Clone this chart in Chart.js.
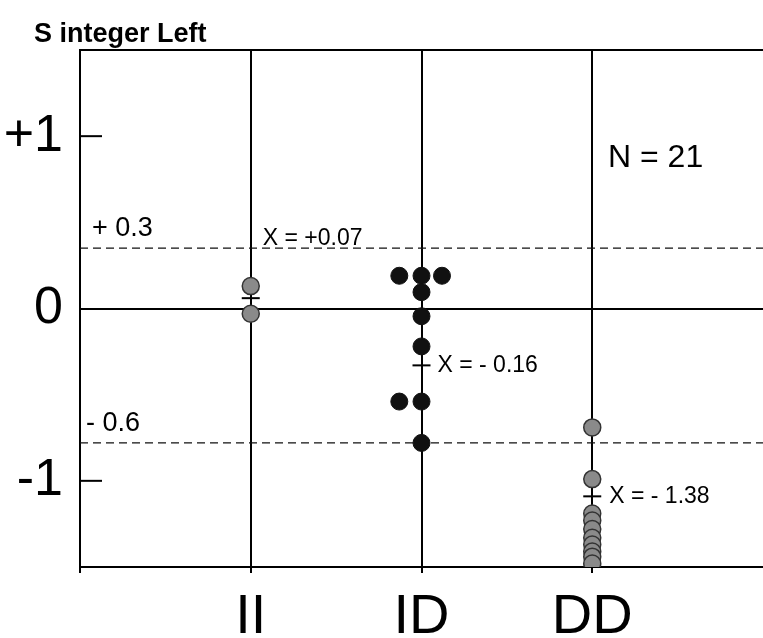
<!DOCTYPE html>
<html>
<head>
<meta charset="utf-8">
<script src="https://cdn.jsdelivr.net/npm/chart.js@4.4.0/dist/chart.umd.min.js"></script>
<style>
    html, body { margin: 0; padding: 0; background: #fff; }
    #chart { display: block; }
</style>
</head>
<body>
<canvas id="chart" width="763" height="638"></canvas>
<script>
// Dados
const categories = ['II', 'ID', 'DD'];
const iiValues = [0.13, -0.03];
const idX = [1.87, 2, 2.12, 2, 2, 2, 1.87, 2, 2];
const idValues = [0.19, 0.19, 0.19, 0.095, -0.045, -0.22, -0.54, -0.54, -0.78];
const ddValues = [-0.69, -0.99, -1.19, -1.23, -1.28, -1.33, -1.37, -1.41, -1.44, -1.48];
const meanValues = [0.06, -0.33, -1.09];
const meanLabels = ['X = +0.07', 'X = - 0.16', 'X = - 1.38'];
const refLines = [0.35, -0.78];
const refLabels = ['+ 0.3', '- 0.6'];
const yTicks = [-1, 0, 1];
const yTickLabels = ['-1', '0', '+1'];
const sampleLabel = 'N = 21';
const yTitle = 'S integer Left';

const FONT = '"Liberation Sans", Arial, sans-serif';

// Textos e marcas extras
const extrasPlugin = {
    id: 'extras',
    afterLayout(chart) {
        // a area do grafico vai ate a borda direita
        const xs = chart.scales.x;
        const w = chart.width;
        xs.right = w;
        xs.width = w - xs.left;
        xs.configure();
        chart.chartArea.right = w;
        chart.chartArea.width = w - chart.chartArea.left;
    },
    afterDraw(chart) {
        const ctx = chart.ctx;
        const x = chart.scales.x, y = chart.scales.y;
        const area = chart.chartArea;
        ctx.save();
        ctx.fillStyle = '#000';
        ctx.strokeStyle = '#000';

        // marcas curtas em +1 e -1
        ctx.lineWidth = 2;
        [1, -1].forEach(v => {
            const py = y.getPixelForValue(v);
            ctx.beginPath();
            ctx.moveTo(area.left, py);
            ctx.lineTo(area.left + 22, py);
            ctx.stroke();
        });

        // titulo
        ctx.font = 'bold 27px ' + FONT;
        ctx.textBaseline = 'alphabetic';
        ctx.textAlign = 'left';
        ctx.fillText(yTitle, 34, 42);

        // N
        ctx.font = '32px ' + FONT;
        ctx.fillText(sampleLabel, 608, 167);

        // rotulos das linhas tracejadas
        ctx.font = '27px ' + FONT;
        refLabels.forEach((t, i) => {
            ctx.fillText(t, i === 0 ? 92 : 86, y.getPixelForValue(refLines[i]) - 12);
        });

        // medias
        ctx.font = '23px ' + FONT;
        ctx.textBaseline = 'middle';
        const offs = [[12, -60], [16, 0], [17, 0]];
        meanLabels.forEach((t, i) => {
            ctx.fillText(t, x.getPixelForValue(i + 1) + offs[i][0], y.getPixelForValue(meanValues[i]) + offs[i][1]);
        });
        ctx.restore();
    }
};

const datasets = [
    {
        label: 'II',
        data: iiValues.map(v => ({ x: 1, y: v })),
        pointRadius: 8.5, backgroundColor: '#8a8a8a', borderColor: '#333', borderWidth: 1.5, order: 1
    },
    {
        label: 'ID',
        data: idValues.map((v, i) => ({ x: idX[i], y: v })),
        pointRadius: 8.5, backgroundColor: '#111', borderColor: '#111', borderWidth: 1, order: 1
    },
    {
        label: 'DD',
        data: ddValues.map(v => ({ x: 3, y: v })),
        pointRadius: 8.5, backgroundColor: '#8a8a8a', borderColor: '#333', borderWidth: 1.5, order: 1
    },
    {
        label: 'media',
        data: meanValues.map((v, i) => ({ x: i + 1, y: v })),
        pointStyle: 'line', pointRadius: 9, borderColor: '#000', borderWidth: 2, order: 0
    }
];
refLines.forEach((v, i) => {
    datasets.push({
        label: refLabels[i],
        data: [{ x: 0, y: v }, { x: 4, y: v }],
        showLine: true, pointRadius: 0, borderColor: '#111', borderWidth: 1.3,
        borderDash: [8, 5], order: 2
    });
});

new Chart(document.getElementById('chart'), {
    type: 'scatter',
    data: { datasets },
    plugins: [extrasPlugin],
    options: {
        responsive: false,
        animation: false,
        devicePixelRatio: 1,
        layout: { padding: { top: 50, right: 0, left: 0, bottom: 0 } },
        plugins: { legend: { display: false }, tooltip: { enabled: false } },
        scales: {
            x: {
                type: 'linear', min: 0, max: 4,
                afterBuildTicks: s => { s.ticks = [0, 1, 2, 3, 4].map(v => ({ value: v })); },
                afterFit: s => { s.height = 71; },
                ticks: {
                    padding: 0,
                    color: '#000',
                    font: { family: FONT, size: 56, lineHeight: 1.6 },
                    callback: v => categories[v - 1] || ''
                },
                grid: {
                    color: c => c.tick && c.tick.value === 4 ? 'rgba(0,0,0,0)' : '#000',
                    lineWidth: 2,
                    tickLength: 6
                },
                border: { display: true, color: '#000', width: 2 }
            },
            y: {
                type: 'linear', min: -1.5, max: 1.5,
                afterBuildTicks: s => { s.ticks = [-1.5, -1, 0, 1, 1.5].map(v => ({ value: v })); },
                afterFit: s => { s.width = 80; },
                ticks: {
                    padding: 17,
                    color: '#000',
                    font: { family: FONT, size: 52 },
                    callback: v => {
                        const i = yTicks.indexOf(v);
                        return i >= 0 ? yTickLabels[i] : '';
                    }
                },
                grid: {
                    color: c => c.tick && (c.tick.value === 0 || c.tick.value === 1.5) ? '#000' : 'rgba(0,0,0,0)',
                    lineWidth: 2,
                    drawTicks: false
                },
                border: { display: true, color: '#000', width: 2 }
            }
        }
    }
});
</script>
</body>
</html>
